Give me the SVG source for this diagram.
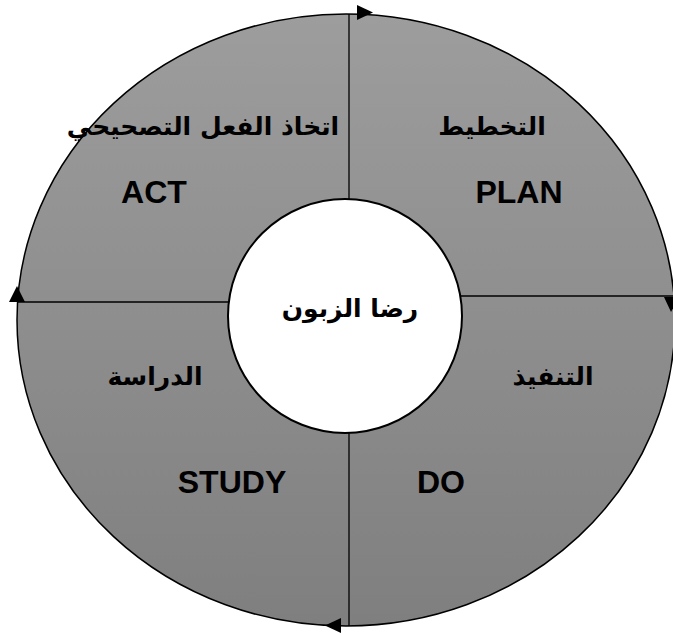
<svg xmlns="http://www.w3.org/2000/svg" width="673" height="633" viewBox="0 0 673 633">
<defs>
<linearGradient id="g" x1="0" y1="0" x2="0" y2="1">
<stop offset="0" stop-color="#9d9d9d"/>
<stop offset="1" stop-color="#7f7f7f"/>
</linearGradient>
<style>
.ln{stroke:#000;stroke-width:1.3;fill:none}
.ar{fill:#000}
.en{font-family:"Liberation Sans",Arial,sans-serif;font-weight:bold;font-size:32px;fill:#000;text-anchor:middle}
.ab{font-family:"DejaVu Sans","Noto Sans",sans-serif;font-weight:bold;font-size:25px;fill:#000;text-anchor:middle}
</style>
</defs>
<rect width="673" height="633" fill="#fff"/>
<g id="ring">
<ellipse cx="346" cy="320" rx="329" ry="306" fill="url(#g)" stroke="#000" stroke-width="1.5"/>
</g>
<g id="connectors">
<line class="ln" x1="349" y1="14" x2="349" y2="200"/>
<line class="ln" x1="349" y1="432" x2="349" y2="626"/>
<line class="ln" x1="17" y1="302" x2="229" y2="302"/>
<line class="ln" x1="461" y1="296" x2="673" y2="296"/>
<polygon class="ar" points="357,5 373,12.5 357,20"/>
<polygon class="ar" points="664,297 679,297 671,312"/>
<polygon class="ar" points="9,302 25,302 17,286"/>
<polygon class="ar" points="341,618 341,633 325,625.5"/>
</g>
<g id="center">
<circle cx="345" cy="316" r="117" fill="#fff" stroke="#000" stroke-width="2"/>
<text class="ab" x="350" y="317" font-size="22">رضا الزبون</text>
</g>
<g id="act">
<text class="ab" x="203" y="135">اتخاذ الفعل التصحيحي</text>
<text class="en" x="154" y="203">ACT</text>
</g>
<g id="plan">
<text class="ab" x="492" y="135">التخطيط</text>
<text class="en" x="519" y="203">PLAN</text>
</g>
<g id="do">
<text class="ab" x="553" y="385">التنفيذ</text>
<text class="en" x="441" y="493">DO</text>
</g>
<g id="study">
<text class="ab" x="155" y="385">الدراسة</text>
<text class="en" x="232" y="493">STUDY</text>
</g>
</svg>
